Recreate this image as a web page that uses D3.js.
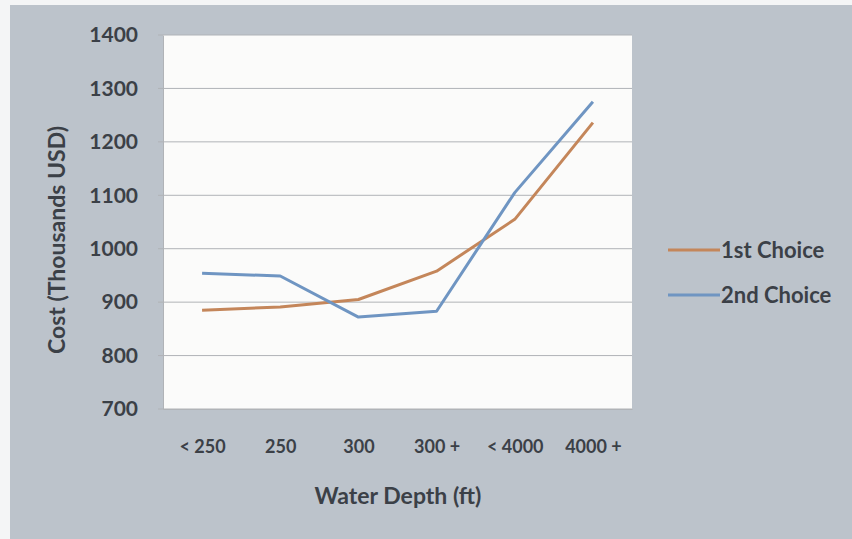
<!DOCTYPE html>
<html>
<head>
<meta charset="utf-8">
<script src="https://cdn.jsdelivr.net/npm/d3@7"></script>
<style>
  body { margin: 0; background: #f4f5f6; }
  text { font-family: Lato, "Open Sans", sans-serif; font-weight: bold; fill: #3b4047; }
</style>
</head>
<body>
<svg id="chart" width="852" height="539"></svg>
<script>
// data
var depths = ['< 250', '250', '300', '300 +', '< 4000', '4000 +']
var firstChoice = [885, 891, 905, 958, 1055, 1236]
var secondChoice = [954, 949, 872, 883, 1105, 1275]
var yTicks = [700, 800, 900, 1000, 1100, 1200, 1300, 1400]
var seriesNames = ['1st Choice', '2nd Choice']
var seriesColors = ['#c4865a', '#6f95c2']

var svg = d3.select('#chart')

// grey chart background
svg.append('rect')
  .attr('x', 10).attr('y', 5)
  .attr('width', 842).attr('height', 534)
  .attr('fill', '#bcc3cb')

var plot = { left: 163, right: 632, top: 35, bottom: 409 }

var x = d3.scalePoint()
  .domain(depths)
  .range([plot.left, plot.right])
  .padding(0.5)

var y = d3.scaleLinear()
  .domain([700, 1400])
  .range([plot.bottom, plot.top])

svg.append('rect')
  .attr('x', plot.left).attr('y', plot.top)
  .attr('width', plot.right - plot.left)
  .attr('height', plot.bottom - plot.top)
  .attr('fill', '#fbfbfa')

// gridlines
svg.append('g')
  .selectAll('line')
  .data(yTicks)
  .enter()
  .append('line')
    .attr('x1', plot.left - 5)
    .attr('x2', plot.right)
    .attr('y1', d => y(d))
    .attr('y2', d => y(d))
    .attr('stroke', '#b0b3b7')
    .attr('stroke-width', 1)

// y axis
var yAxis = svg.append('g')
  .attr('transform', 'translate(' + plot.left + ',0)')
  .call(d3.axisLeft(y).tickValues(yTicks).tickFormat(d3.format('d')).tickSize(0).tickPadding(25))
yAxis.select('.domain').attr('stroke', '#b0b3b7')
yAxis.selectAll('text')
  .style('font-size', '21px')
  .attr('fill', '#3b4047')

// x axis
var xAxis = svg.append('g')
  .attr('transform', 'translate(0,' + plot.bottom + ')')
  .call(d3.axisBottom(x).tickSize(0).tickPadding(31))
xAxis.select('.domain').attr('stroke', '#b0b3b7')
xAxis.selectAll('text')
  .style('font-size', '18px')
  .attr('fill', '#3b4047')

// lines
var line = d3.line()
  .x((d, i) => x(depths[i]))
  .y(d => y(d))

svg.selectAll('.series')
  .data([firstChoice, secondChoice])
  .enter()
  .append('path')
    .attr('class', 'series')
    .attr('d', line)
    .attr('fill', 'none')
    .attr('stroke', (d, i) => seriesColors[i])
    .attr('stroke-width', 3)
    .attr('stroke-linejoin', 'round')

// axis titles
svg.append('text')
  .attr('x', 398).attr('y', 504)
  .attr('text-anchor', 'middle')
  .style('font-size', '23px')
  .text('Water Depth (ft)')

svg.append('text')
  .attr('transform', 'translate(65,240) rotate(-90)')
  .attr('text-anchor', 'middle')
  .style('font-size', '23px')
  .text('Cost (Thousands USD)')

// legend
var legend = svg.append('g')
  .selectAll('g')
  .data(seriesNames)
  .enter()
  .append('g')
    .attr('transform', (d, i) => 'translate(668,' + (250 + i * 45) + ')')

legend.append('line')
  .attr('x1', 0).attr('x2', 52)
  .attr('stroke', (d, i) => seriesColors[i])
  .attr('stroke-width', 3)

legend.append('text')
  .attr('x', 53).attr('y', 8)
  .style('font-size', '22px')
  .text(d => d)
</script>
</body>
</html>
